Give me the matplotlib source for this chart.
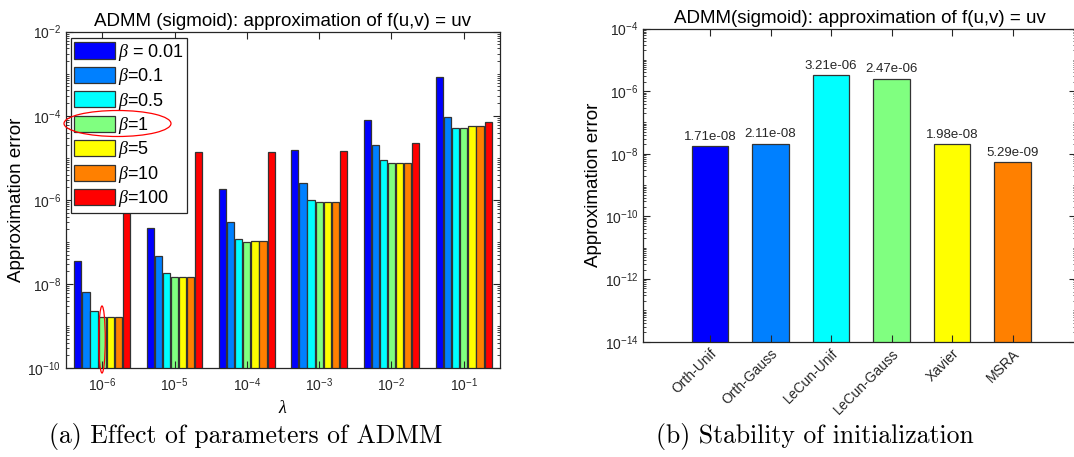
import numpy as np
import matplotlib.pyplot as plt
from matplotlib.patches import Ellipse
from matplotlib.ticker import LogLocator, NullFormatter, FixedLocator

plt.rcParams['font.family'] = ['Liberation Sans', 'DejaVu Sans']
plt.rcParams['mathtext.fontset'] = 'custom'
plt.rcParams['mathtext.rm'] = 'Liberation Sans'
plt.rcParams['mathtext.it'] = 'Liberation Serif:italic'

# (a) effect of the ADMM parameters
lambdas = ['$10^{-6}$', '$10^{-5}$', '$10^{-4}$', '$10^{-3}$', '$10^{-2}$', '$10^{-1}$']
beta_labels = [r'$\beta$ = 0.01', r'$\beta$=0.1', r'$\beta$=0.5', r'$\beta$=1',
               r'$\beta$=5', r'$\beta$=10', r'$\beta$=100']
err_b001 = [3.5e-8, 2.1e-7, 1.8e-6, 1.5e-5, 7.9e-5, 8.5e-4]
err_b01 = [6.3e-9, 4.5e-8, 2.9e-7, 2.46e-6, 2.0e-5, 9.5e-5]
err_b05 = [2.3e-9, 1.83e-8, 1.15e-7, 9.8e-7, 8.9e-6, 5.1e-5]
err_b1 = [1.65e-9, 1.44e-8, 1.0e-7, 8.7e-7, 7.4e-6, 5.0e-5]
err_b5 = [1.65e-9, 1.47e-8, 1.04e-7, 8.7e-7, 7.7e-6, 5.6e-5]
err_b10 = [1.65e-9, 1.47e-8, 1.04e-7, 8.7e-7, 7.7e-6, 5.7e-5]
err_b100 = [1.4e-5, 1.39e-5, 1.39e-5, 1.49e-5, 2.2e-5, 7.2e-5]
series_a = [err_b001, err_b01, err_b05, err_b1, err_b5, err_b10, err_b100]

# (b) stability w.r.t. initialization
inits = ['Orth-Unif', 'Orth-Gauss', 'LeCun-Unif', 'LeCun-Gauss', 'Xavier', 'MSRA']
init_err = [1.71e-8, 2.11e-8, 3.21e-6, 2.47e-6, 1.98e-8, 5.29e-9]

jet7 = [(0, 0, 1), (0, 0.5, 1), (0, 1, 1), (0.5, 1, 0.5), (1, 1, 0), (1, 0.5, 0), (1, 0, 0)]
edge = '#333333'
spine = '#262626'

W, H = 1074, 457
fig = plt.figure(figsize=(W / 100, H / 100), dpi=100)


def px_axes(l, t, r, b):
    return fig.add_axes([l / W, 1 - b / H, (r - l) / W, (b - t) / H])


def style_log_axes(ax):
    for s in ax.spines.values():
        s.set_color(spine)
        s.set_linewidth(0.9)
    ax.tick_params(which='both', direction='in', top=True, right=True,
                   color=spine, labelsize=10, labelcolor='#262626')
    ax.tick_params(which='major', length=5)
    ax.tick_params(which='minor', length=2.5)
    ax.yaxis.set_minor_locator(LogLocator(base=10, subs=np.arange(1, 10), numticks=100))
    ax.yaxis.set_minor_formatter(NullFormatter())
    ax.xaxis.set_minor_locator(FixedLocator([]))


# ---- left panel ----
ax1 = px_axes(66, 31.7, 500, 368)
x = np.arange(1, len(lambdas) + 1)
pitch = 0.112
for i, vals in enumerate(series_a):
    ax1.bar(x + (i - 3) * pitch, np.array(vals) - 1e-13, bottom=1e-13, width=0.1,
            color=jet7[i], edgecolor=edge, linewidth=0.9, label=beta_labels[i])
ax1.set_yscale('log')
ax1.set_ylim(1e-10, 1e-2)
ax1.set_xlim(0.5, 6.5)
ax1.set_yticks([1e-10, 1e-8, 1e-6, 1e-4, 1e-2])
ax1.set_xticks(x)
ax1.set_xticklabels(lambdas)
style_log_axes(ax1)
ax1.tick_params(axis='x', pad=6)
ax1.set_title('ADMM (sigmoid): approximation of f(u,v) = uv', fontsize=13.5, pad=4)
ax1.set_ylabel('Approximation error', fontsize=13.5, labelpad=2)
ax1.set_xlabel(r'$\lambda$', fontsize=13, labelpad=4)
leg = ax1.legend(loc='upper left', bbox_to_anchor=(0.011, 0.981), borderaxespad=0,
                 fontsize=13, handlelength=2.25, handleheight=1.0, labelspacing=0.19,
                 handletextpad=0.15, borderpad=0.2, fancybox=False, framealpha=1,
                 edgecolor=spine)
leg.get_frame().set_linewidth(0.9)

# red marks around beta = 1
fig.add_artist(Ellipse((117.5 / W, 1 - 123.5 / H), 107 / W, 26 / H, fill=False,
                       edgecolor='red', linewidth=0.9, transform=fig.transFigure))
fig.add_artist(Ellipse((102 / W, 1 - 339.5 / H), 6.5 / W, 67 / H, fill=False,
                       edgecolor='red', linewidth=0.9, transform=fig.transFigure))

# ---- right panel ----
ax2 = px_axes(643.3, 28.5, 1076, 341.7)
xb = np.arange(1, len(inits) + 1)
bars = ax2.bar(xb, np.array(init_err) - 1e-17, bottom=1e-17, width=0.6,
               color=jet7[:6], edgecolor=edge, linewidth=0.9)
for xi, v in zip(xb, init_err):
    ax2.annotate('%.2e' % v, (xi, v), xytext=(0, 2.5), textcoords='offset points',
                 ha='center', va='bottom', fontsize=9.5, color='#262626')
ax2.set_yscale('log')
ax2.set_ylim(1e-14, 1e-4)
ax2.set_xlim(-0.105, 7.05)
ax2.set_yticks([1e-14, 1e-12, 1e-10, 1e-8, 1e-6, 1e-4])
ax2.set_xticks(xb)
ax2.set_xticklabels(inits, rotation=45, ha='right', rotation_mode='anchor')
style_log_axes(ax2)
ax2.set_title('ADMM(sigmoid): approximation of f(u,v) = uv', fontsize=13.5, pad=4)
ax2.set_ylabel('Approximation error', fontsize=13.5, labelpad=2)

# sub-figure captions
fig.text(246 / W, 1 - 437 / H, '(a) Effect of parameters of ADMM', family='cmr10',
         fontsize=18.5, ha='center', va='center')
fig.text(815 / W, 1 - 437 / H, '(b) Stability of initialization', family='cmr10',
         fontsize=18.5, ha='center', va='center')

fig.savefig('out.png', dpi=100)
